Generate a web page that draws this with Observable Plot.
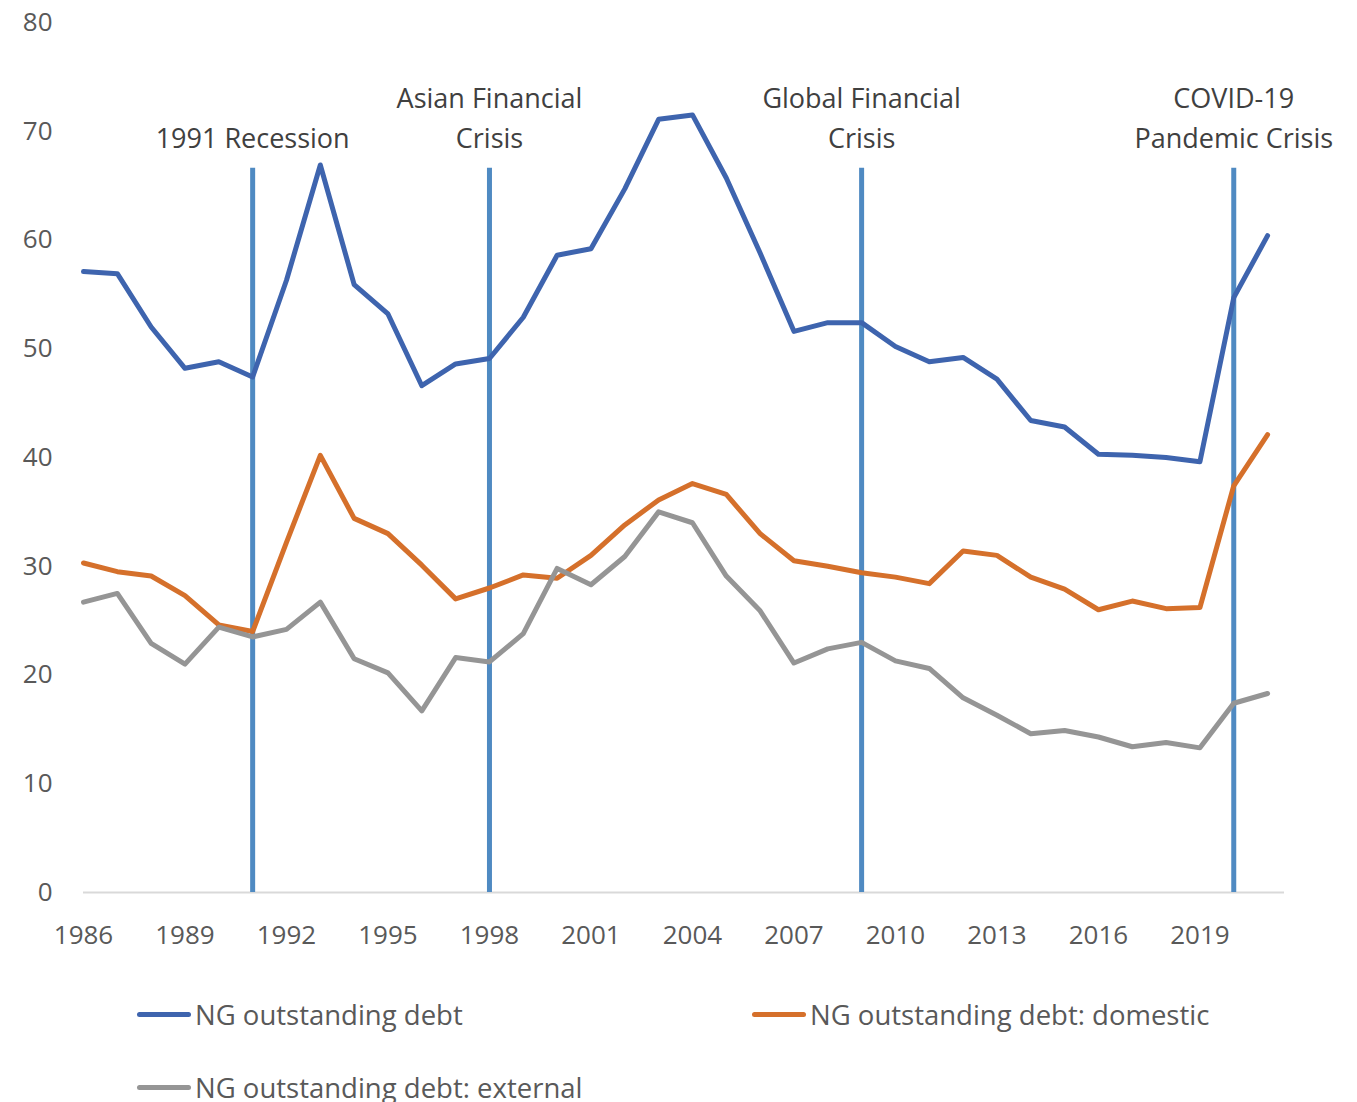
<!DOCTYPE html>
<html>
<head>
<meta charset="utf-8">
<script src="https://cdn.jsdelivr.net/npm/d3@7"></script>
<script src="https://cdn.jsdelivr.net/npm/@observablehq/plot@0.6"></script>
<style>
  html, body { margin: 0; padding: 0; background: #fff; }
  body { width: 1357px; height: 1102px; overflow: hidden; font-family: "Open Sans", "Noto Sans", sans-serif; }
  #chart svg { display: block; }
  #legend { position: relative; width: 1357px; height: 142px; color: #595959; font-size: 27.5px; }
  .item { position: absolute; display: flex; align-items: center; white-space: nowrap; }
  .sw { width: 54px; height: 5px; border-radius: 3px; margin-right: 4px; }
</style>
</head>
<body>
<div id="chart"></div>
<div id="legend"></div>
<script>
const years = d3.range(1986, 2022);
const totalDebt = [57.1, 56.9, 52.0, 48.2, 48.8, 47.4, 56.3, 66.9, 55.9, 53.2, 46.6, 48.6, 49.1, 52.9, 58.6, 59.2, 64.7, 71.1, 71.5, 65.7, 58.8, 51.6, 52.4, 52.4, 50.2, 48.8, 49.2, 47.2, 43.4, 42.8, 40.3, 40.2, 40.0, 39.6, 54.7, 60.4];
const domesticDebt = [30.3, 29.5, 29.1, 27.3, 24.6, 24.0, 32.2, 40.2, 34.4, 33.0, 30.1, 27.0, 28.0, 29.2, 28.9, 31.0, 33.8, 36.1, 37.6, 36.6, 33.0, 30.5, 30.0, 29.4, 29.0, 28.4, 31.4, 31.0, 29.0, 27.9, 26.0, 26.8, 26.1, 26.2, 37.4, 42.1];
const externalDebt = [26.7, 27.5, 22.9, 21.0, 24.4, 23.5, 24.2, 26.7, 21.5, 20.2, 16.7, 21.6, 21.2, 23.8, 29.8, 28.3, 30.9, 35.0, 34.0, 29.1, 25.9, 21.1, 22.4, 23.0, 21.3, 20.6, 17.9, 16.3, 14.6, 14.9, 14.3, 13.4, 13.8, 13.3, 17.4, 18.3];
const seriesNames = ["NG outstanding debt", "NG outstanding debt: domestic", "NG outstanding debt: external"];
const seriesColors = ["#3e64ae", "#d5702b", "#959595"];
const eventYears = [1991, 1998, 2009, 2020];
const eventLabels = ["1991 Recession", "Asian Financial\nCrisis", "Global Financial\nCrisis", "COVID-19\nPandemic Crisis"];
const eventTop = 66.6;
const labelBase = 68.5;
const xTicks = d3.range(1986, 2020, 3);
const yTicks = [0, 10, 20, 30, 40, 50, 60, 70, 80];

const seriesValues = [totalDebt, domesticDebt, externalDebt];
const rows = seriesNames.flatMap((name, i) => years.map((yr, j) => ({series: name, year: yr, value: seriesValues[i][j]})));
const events = eventYears.map((yr, i) => ({year: yr, label: eventLabels[i], top: eventTop, base: labelBase}));

const plot = Plot.plot({
  width: 1357,
  height: 960,
  marginLeft: 83,
  marginRight: 73,
  marginTop: 22,
  marginBottom: 68,
  style: {fontFamily: "'Open Sans', 'Noto Sans', sans-serif", fontSize: "26px", color: "#595959", background: "#fff"},
  x: {domain: [1986, 2021.5], ticks: xTicks, tickFormat: d => String(d), tickSize: 0, tickPadding: 33, label: null},
  y: {domain: [0, 80], ticks: yTicks, tickSize: 0, tickPadding: 31, label: null},
  color: {domain: seriesNames, range: seriesColors},
  marks: [
    Plot.ruleY([0], {stroke: "#d9d9d9", strokeWidth: 2}),
    Plot.ruleX(events, {x: "year", y1: 0, y2: "top", stroke: "#4f8ac2", strokeWidth: 5}),
    Plot.text(events, {x: "year", y: "base", text: "label", lineAnchor: "bottom", lineHeight: 1.45, fill: "#404040", fontSize: 27}),
    Plot.line(rows, {x: "year", y: "value", z: "series", stroke: "series", strokeWidth: 5, strokeLinejoin: "round", strokeLinecap: "round"})
  ]
});
document.getElementById("chart").appendChild(plot);

const legendPos = [[137, 54], [752, 54], [137, 127]];
const legend = document.getElementById("legend");
seriesNames.forEach((name, i) => {
  const it = document.createElement("div");
  it.className = "item";
  it.style.left = legendPos[i][0] + "px";
  it.style.top = (legendPos[i][1] - 20) + "px";
  it.style.height = "40px";
  const sw = document.createElement("div");
  sw.className = "sw";
  sw.style.background = seriesColors[i];
  const tx = document.createElement("span");
  tx.textContent = name;
  it.appendChild(sw);
  it.appendChild(tx);
  legend.appendChild(it);
});
</script>
</body>
</html>
